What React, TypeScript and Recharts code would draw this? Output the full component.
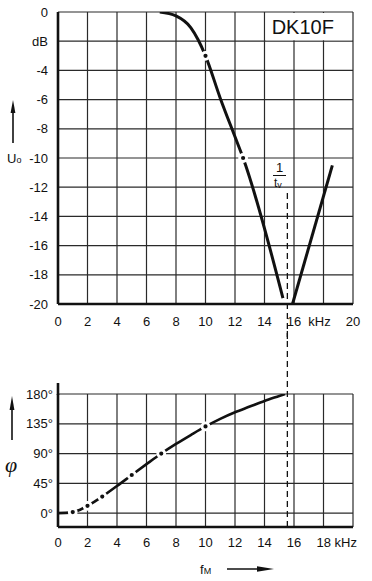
import React from 'react';
import {
    LineChart,
    Line,
    XAxis,
    YAxis,
    CartesianGrid,
    ReferenceLine,
    ReferenceArea,
} from 'recharts';

// frequency axis, shared by both panels (kHz)
const freqTicks = [0, 2, 4, 6, 8, 10, 12, 14, 16, 18, 20];
const dbTicks = [0, -2, -4, -6, -8, -10, -12, -14, -16, -18, -20];
const phaseTicks = [0, 45, 90, 135, 180];

// amplitude response, falling branch
const fallFreq = [6.9, 8, 9, 9.5, 10, 11, 12, 12.55, 15.25];
const fallDb = [0, -0.27, -1.07, -1.9, -3, -5.9, -8.55, -10, -19.6];
// amplitude response, rising branch behind the notch
const riseFreq = [15.9, 18.6];
const riseDb = [-20, -10.5];
// measured points on the amplitude curve
const ampMarkFreq = [10, 12.55];
const ampMarkDb = [-3, -10];

// phase response
const phaseFreq = [0, 0.5, 1, 1.5, 2, 3, 4, 5, 6, 7, 8, 9, 10, 11, 12, 13, 14, 15, 15.4];
const phaseDeg = [0, 0.3, 1.5, 5, 11, 25, 41, 57.6, 74, 90, 104.5, 118, 131, 142.5, 152.5, 161, 169.5, 177, 180];
const phaseMarkFreq = [1, 2, 3, 5, 7, 10];
const phaseMarkDeg = [1.5, 11, 25, 57.6, 90, 131];

// 1/tv marker
const cutoffKHz = 15.55;

const zip = (xs: number[], ys: number[]) => xs.map((f, i) => ({ f, v: ys[i] }));

const fallData = zip(fallFreq, fallDb);
const riseData = zip(riseFreq, riseDb);
const ampMarks = zip(ampMarkFreq, ampMarkDb);
const phaseData = zip(phaseFreq, phaseDeg);
const phaseMarks = zip(phaseMarkFreq, phaseMarkDeg);

const FONT = '"Liberation Sans", Arial, sans-serif';
const INK = '#111';
const GRID = '#2a2a2a';

const MarkDot = (props: any) => {
    const { cx, cy, index } = props;
    if (cx == null || cy == null) return <g key={index} />;
    return <circle key={index} cx={cx} cy={cy} r={3.5} fill={INK} stroke="#fff" strokeWidth={2.8} />;
};

const dbLabel = (v: number) => (v === 0 ? '0' : v === -2 ? 'dB' : `-${Math.abs(v)}`);

const TopFreqTick = (props: any) => {
    const { x, y, payload } = props;
    const v = payload.value;
    const text = v === 18 ? 'kHz' : String(v);
    return (
        <text x={v === 18 ? x - 4 : x} y={y} dy="0.71em" textAnchor="middle" fontSize={13} fill={INK} fontFamily={FONT}>
            {text}
        </text>
    );
};

const BottomFreqTick = (props: any) => {
    const { x, y, payload } = props;
    const v = payload.value;
    if (v === 20) return <g />;
    if (v === 18) {
        return (
            <text x={x - 7} y={y} dy="0.71em" textAnchor="start" fontSize={13} fill={INK} fontFamily={FONT}>
                18 kHz
            </text>
        );
    }
    return (
        <text x={x} y={y} dy="0.71em" textAnchor="middle" fontSize={13} fill={INK} fontFamily={FONT}>
            {v}
        </text>
    );
};

export default function App() {
    return (
        <div style={{ position: 'absolute', left: 0, top: 0, width: 372, height: 581, background: '#fff', fontFamily: FONT }}>
            {/* amplitude panel */}
            <div style={{ position: 'absolute', left: 0, top: 0 }}>
                <LineChart width={372} height={340} margin={{ top: 12, right: 19, left: 0, bottom: 0 }}>
                    <CartesianGrid stroke={GRID} strokeWidth={1.2} />
                    <XAxis
                        dataKey="f"
                        type="number"
                        domain={[0, 20]}
                        ticks={freqTicks}
                        height={36}
                        tickSize={0}
                        tickMargin={13}
                        tick={<TopFreqTick />}
                        axisLine={{ stroke: INK, strokeWidth: 2.6 }}
                        allowDataOverflow
                    />
                    <YAxis
                        type="number"
                        domain={[-20, 0]}
                        ticks={dbTicks}
                        width={58}
                        tickSize={0}
                        tickMargin={10}
                        tickFormatter={dbLabel}
                        tick={{ fontSize: 13, fill: INK, fontFamily: FONT }}
                        axisLine={{ stroke: INK, strokeWidth: 2.6 }}
                        allowDataOverflow
                    />
                    <ReferenceArea
                        x1={14.08}
                        x2={19.93}
                        y1={-1.93}
                        y2={-0.07}
                        fill="#fff"
                        fillOpacity={1}
                        stroke="none"
                        label={{ value: 'DK10F', position: 'insideLeft', offset: 6, fontSize: 20, fill: INK, fontFamily: FONT }}
                    />
                    <ReferenceLine
                        segment={[{ x: cutoffKHz, y: -12.4 }, { x: cutoffKHz, y: -24 }]}
                        stroke={INK}
                        strokeWidth={1.3}
                        strokeDasharray="6 4"
                        ifOverflow="visible"
                    />
                    <Line data={fallData} dataKey="v" type="monotone" stroke={INK} strokeWidth={3} dot={false} isAnimationActive={false} />
                    <Line data={riseData} dataKey="v" type="linear" stroke={INK} strokeWidth={3} dot={false} isAnimationActive={false} />
                    <Line data={ampMarks} dataKey="v" stroke="none" dot={MarkDot} isAnimationActive={false} />
                </LineChart>
            </div>

            {/* phase panel */}
            <div style={{ position: 'absolute', left: 0, top: 330 }}>
                <LineChart width={372} height={250} margin={{ top: 64, right: 19, left: 0, bottom: 0 }}>
                    <CartesianGrid stroke={GRID} strokeWidth={1.2} />
                    <XAxis
                        dataKey="f"
                        type="number"
                        domain={[0, 20]}
                        ticks={freqTicks}
                        height={53}
                        tickSize={0}
                        tickMargin={11}
                        tick={<BottomFreqTick />}
                        axisLine={{ stroke: INK, strokeWidth: 2.6 }}
                        allowDataOverflow
                    />
                    <YAxis
                        type="number"
                        domain={[-21, 180]}
                        ticks={phaseTicks}
                        width={58}
                        tickSize={0}
                        tickMargin={5}
                        tickFormatter={(v: number) => `${v}°`}
                        tick={{ fontSize: 13, fill: INK, fontFamily: FONT }}
                        axisLine={{ stroke: INK, strokeWidth: 2.6 }}
                        allowDataOverflow
                    />
                    <ReferenceLine
                        segment={[{ x: cutoffKHz, y: -21 }, { x: cutoffKHz, y: 290 }]}
                        stroke={INK}
                        strokeWidth={1.3}
                        strokeDasharray="6 4"
                        ifOverflow="visible"
                    />
                    <Line data={phaseData} dataKey="v" type="monotone" stroke={INK} strokeWidth={2.6} dot={false} isAnimationActive={false} />
                    <Line data={phaseMarks} dataKey="v" stroke="none" dot={MarkDot} isAnimationActive={false} />
                </LineChart>
            </div>

            {/* axis names, arrows and the 1/tv note */}
            <svg width={372} height={581} style={{ position: 'absolute', left: 0, top: 0, pointerEvents: 'none' }}>
                <g fill={INK} stroke={INK} fontFamily={FONT}>
                    <line x1={13} y1={143} x2={13} y2={110} strokeWidth={1.6} />
                    <polygon points="13,100 10.6,113 15.4,113" stroke="none" />
                    <text x={7} y={163} fontSize={13} stroke="none">
                        U<tspan fontSize={9}>o</tspan>
                    </text>

                    <line x1={12} y1={440} x2={12} y2={406} strokeWidth={1.6} />
                    <polygon points="12,396 9.6,410 14.4,410" stroke="none" />
                    <text x={5} y={472} fontSize={22} stroke="none" fontFamily='"Liberation Serif", serif' fontStyle="italic">
                        φ
                    </text>

                    <text x={279.5} y={172} fontSize={13} textAnchor="middle" stroke="none">
                        1
                    </text>
                    <line x1={273} y1={175.5} x2={286} y2={175.5} strokeWidth={1} />
                    <text x={274} y={187} fontSize={12} stroke="none">
                        t<tspan fontSize={9} dy={1}>v</tspan>
                    </text>

                    <text x={200} y={574} fontSize={13} stroke="none">
                        f<tspan fontSize={9}>M</tspan>
                    </text>
                    <line x1={227} y1={569} x2={262} y2={569} strokeWidth={1.4} />
                    <polygon points="274,569 257,566.3 257,571.7" stroke="none" />

                    <line x1={58} y1={383} x2={58} y2={395} strokeWidth={2.6} />
                </g>
            </svg>
        </div>
    );
}
